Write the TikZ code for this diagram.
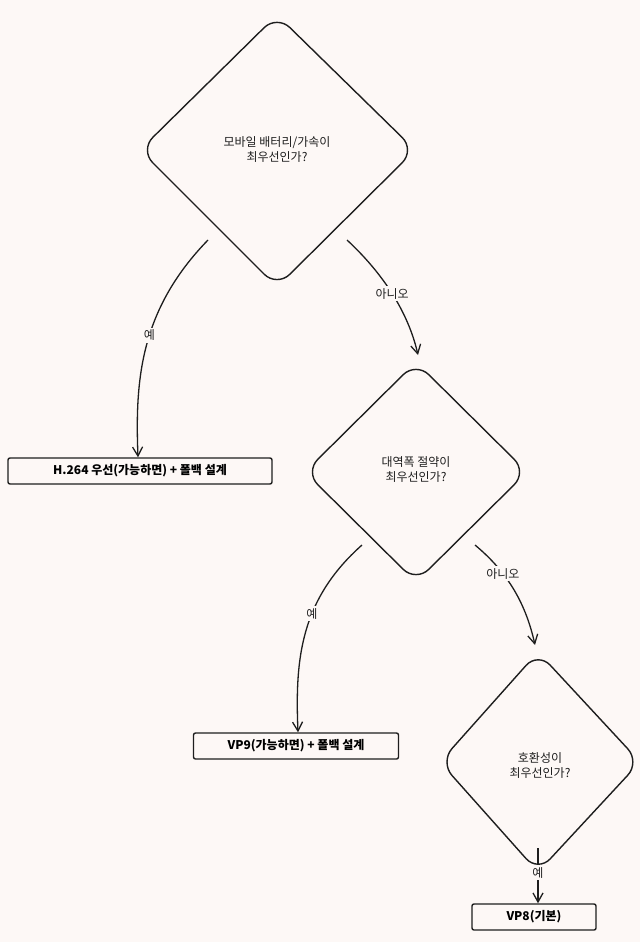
\documentclass[tikz,border=0pt]{standalone}
\usepackage{fontspec}
\newfontfamily\kr{Noto Sans CJK KR}
\usetikzlibrary{arrows.meta}
\definecolor{bg}{HTML}{FDF8F6}
\definecolor{ink}{HTML}{1E1E1E}
\begin{document}
\begin{tikzpicture}[x=1pt,y=-1pt,
  dia/.style={draw=ink,line width=1.4pt,rounded corners=18pt},
  box/.style={draw=ink,line width=1.4pt,rounded corners=2pt,minimum height=26pt,inner sep=4pt,font=\kr\fontsize{12}{14}\selectfont\bfseries},
  txt/.style={font=\kr\fontsize{12}{15}\selectfont,align=center,text=ink},
  lbl/.style={font=\kr\fontsize{12}{14}\selectfont,fill=bg,inner sep=2pt,text=ink},
  arr/.style={draw=ink,line width=1.3pt,-{Straight Barb[length=9pt,width=10pt]}}]
\useasboundingbox[fill=bg] (0,0) rectangle (640,942);
% diamonds
\draw[dia] (277,15) -- (415,150) -- (277,287) -- (140,150) -- cycle;
\node[txt] (d1) at (277,150) {모바일 배터리/가속이\\최우선인가?};
\draw[dia] (416,362) -- (527,472) -- (416,582) -- (305,472) -- cycle;
\node[txt] (d2) at (416,470) {대역폭 절약이\\최우선인가?};
\draw[dia] (538,652) -- (640,762) -- (538,872) -- (440,762) -- cycle;
\node[txt] (d3) at (540,765) {호환성이\\최우선인가?};
% boxes
\node[box,minimum width=264pt] (b1) at (140,471) {H.264 우선(가능하면) + 폴백 설계};
\node[box,minimum width=205pt] (b2) at (296,746) {VP9(가능하면) + 폴백 설계};
\node[box,minimum width=124pt] (b3) at (534,917) {VP8(기본)};
% connectors
\coordinate (s1) at (208,240); \coordinate (s2) at (347,240);
\coordinate (s3) at (362,545); \coordinate (s4) at (475,545);
\coordinate (s5) at (538,848);
\draw[arr] (s1) .. controls (140,310) and (135,380) .. (b1.north -| 138,0) node[lbl,pos=0.45] {예};
\draw[arr] (s2) .. controls (390,280) and (410,320) .. (418,355) node[lbl,pos=0.45] {아니오};
\draw[arr] (s3) .. controls (300,600) and (295,660) .. (b2.north -| 298,0) node[lbl,pos=0.4] {예};
\draw[arr] (s4) .. controls (505,570) and (525,600) .. (535,645) node[lbl,pos=0.35] {아니오};
\draw[arr] (s5) -- (b3.north -| 538,0) node[lbl,pos=0.45] {예};
\end{tikzpicture}
\end{document}
